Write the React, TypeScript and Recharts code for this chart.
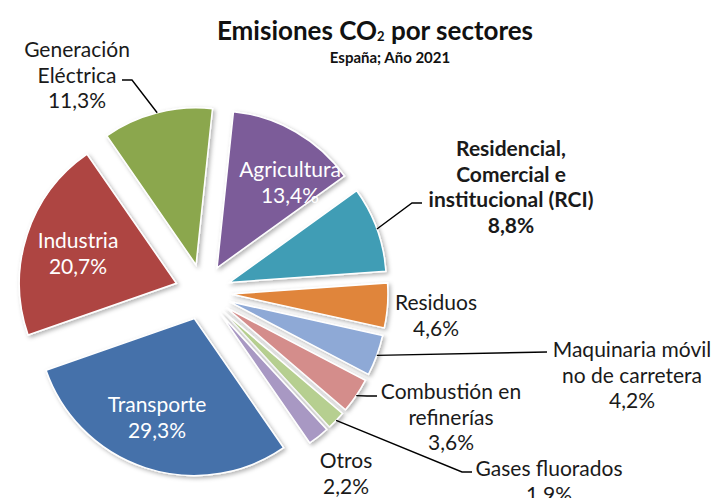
import { Cell, Pie, PieChart, Sector } from "recharts";

const sectors = [
  "Agricultura",
  "Residencial, Comercial e institucional (RCI)",
  "Residuos",
  "Maquinaria móvil no de carretera",
  "Combustión en refinerías",
  "Gases fluorados",
  "Otros",
  "Transporte",
  "Industria",
  "Generación Eléctrica",
];
const shares = [13.4, 8.8, 4.6, 4.2, 3.6, 1.9, 2.2, 29.3, 20.7, 11.3];
const nameLines = [
  ["Agricultura"],
  ["Residencial,", "Comercial e", "institucional (RCI)"],
  ["Residuos"],
  ["Maquinaria móvil", "no de carretera"],
  ["Combustión en", "refinerías"],
  ["Gases fluorados"],
  ["Otros"],
  ["Transporte"],
  ["Industria"],
  ["Generación", "Eléctrica"],
];
const pctLabels = ["13,4%", "8,8%", "4,6%", "4,2%", "3,6%", "1.9%", "2,2%", "29,3%", "20,7%", "11,3%"];

const rows = sectors.map((name, i) => ({ name, value: shares[i] }));

const colors = [
  "#7B5C99",
  "#3F9DB5",
  "#E0853A",
  "#8EA9D6",
  "#D48D8B",
  "#B6CF90",
  "#A898C3",
  "#4571AA",
  "#AE4442",
  "#8BA74D",
];

// where excel put each label (first line centre) and the leader line bends
type LabelPos = { x: number; y: number; inside?: boolean; bold?: boolean; bend?: number[][] };
const labelPos: LabelPos[] = [
  { x: 290, y: 168, inside: true },
  { x: 511, y: 147, bold: true, bend: [[412, 203], [422, 203]] },
  { x: 436, y: 301 },
  { x: 632, y: 348, bend: [[547, 352]] },
  { x: 451, y: 390, bend: [[367, 396], [377, 396]] },
  { x: 549, y: 467, bend: [[462, 472], [472, 472]] },
  { x: 346, y: 459 },
  { x: 157, y: 403, inside: true },
  { x: 78, y: 239, inside: true },
  { x: 77, y: 48, bend: [[132, 80], [122, 80]] },
];

const EXPLODE = 28;
const LINE_H = 25.5;
const FONT = "Lato, 'Open Sans', sans-serif";

const renderSlice = (p: any) => {
  const i = p.index;
  const rad = (-p.midAngle * Math.PI) / 180;
  const ox = p.cx + EXPLODE * Math.cos(rad);
  const oy = p.cy + EXPLODE * Math.sin(rad);
  const ex = ox + p.outerRadius * Math.cos(rad);
  const ey = oy + p.outerRadius * Math.sin(rad);
  const lp = labelPos[i];
  const lines = [...nameLines[i], pctLabels[i]];
  return (
    <g key={`slice-${i}`}>
      <Sector
        cx={ox}
        cy={oy}
        innerRadius={0}
        outerRadius={p.outerRadius}
        startAngle={p.startAngle}
        endAngle={p.endAngle}
        fill={colors[i]}
        stroke="#fff"
        strokeWidth={1.5}
        filter="url(#shadow)"
      />
      {lp.bend && (
        <polyline
          points={[[ex, ey], ...lp.bend].map((pt) => pt.join(",")).join(" ")}
          fill="none"
          stroke="#000"
          strokeWidth={1.4}
        />
      )}
      <text
        textAnchor="middle"
        dominantBaseline="central"
        fontFamily={FONT}
        fontSize={21}
        fontWeight={lp.bold ? 700 : 400}
        fill={lp.inside ? "#fff" : "#1a1a1a"}
      >
        {lines.map((l, k) => (
          <tspan key={k} x={lp.x} y={lp.y + k * LINE_H}>
            {l}
          </tspan>
        ))}
      </text>
    </g>
  );
};

export default function App() {
  return (
    <div style={{ position: "absolute", left: 0, top: 0, width: 715, height: 498, background: "#fff" }}>
      <PieChart width={715} height={498} margin={{ top: 0, right: 0, bottom: 0, left: 0 }}>
        <defs>
          <filter id="shadow" x="-20%" y="-20%" width="150%" height="150%">
            <feDropShadow dx="2" dy="2" stdDeviation="2" floodColor="#000" floodOpacity="0.3" />
          </filter>
        </defs>
        <text x={375} y={40} textAnchor="middle" fontFamily={FONT} fontSize={26} fontWeight={700} fill="#111">
          Emisiones CO
          <tspan fontSize={13} dy={1}>2</tspan>
          <tspan dy={-1}> por sectores</tspan>
        </text>
        <text x={390} y={63} textAnchor="middle" fontFamily={FONT} fontSize={15} fontWeight={700} fill="#111">
          España; Año 2021
        </text>
        <Pie
          data={rows}
          dataKey="value"
          nameKey="name"
          cx={203}
          cy={292}
          outerRadius={157}
          startAngle={84}
          endAngle={-276}
          stroke="none"
          labelLine={false}
          label={renderSlice}
          isAnimationActive={false}
        >
          {rows.map((r) => (
            <Cell key={r.name} fill="transparent" />
          ))}
        </Pie>
      </PieChart>
    </div>
  );
}
